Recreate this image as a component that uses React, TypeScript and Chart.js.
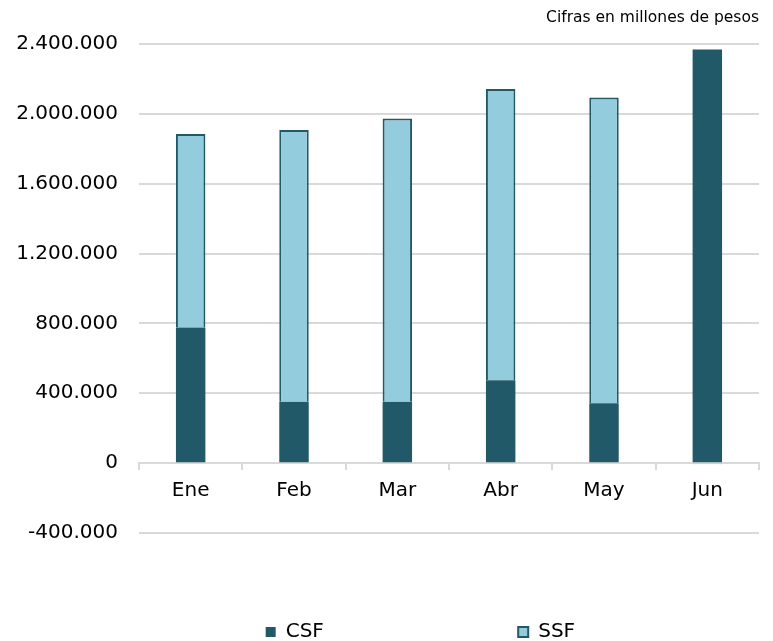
import React, { useEffect, useRef } from 'react';
import { Chart, registerables } from 'chart.js';

Chart.register(...registerables);

const categories = ['Ene', 'Feb', 'Mar', 'Abr', 'May', 'Jun'];
const csfValues = [776000, 351000, 351000, 475000, 343000, 2368000];
const ssfValues = [1109000, 1556000, 1622000, 1667000, 1751000, -4000];
const seriesNames = ['CSF', 'SSF'];
const yMin = -400000;
const yMax = 2400000;
const yStep = 400000;
const unitNote = 'Cifras en millones de pesos';

const FONT = "'DejaVu Sans', Verdana, sans-serif";
const DARK = '#215968';
const LIGHT = '#93CDDD';
const GRID = '#d9d9d9';

const fmt = (v: number) => {
  const s = Math.abs(v).toString().replace(/\B(?=(\d{3})+(?!\d))/g, '.');
  return (v < 0 ? '-' : '') + s;
};

export default function App() {
  const ref = useRef<HTMLCanvasElement | null>(null);
  useEffect(() => {
    if (!ref.current) return;
    const chart = new Chart(ref.current, {
      type: 'bar',
      data: {
        labels: categories,
        datasets: [
          {
            label: seriesNames[0],
            data: csfValues,
            backgroundColor: DARK,
            borderColor: DARK,
            borderWidth: 0,
            categoryPercentage: 1,
            barPercentage: 0.285,
          },
          {
            label: seriesNames[1],
            data: ssfValues,
            backgroundColor: LIGHT,
            borderColor: DARK,
            borderWidth: 2,
            categoryPercentage: 1,
            barPercentage: 0.285,
          },
        ],
      },
      options: {
        responsive: false,
        animation: false,
        layout: { padding: { left: 0, right: 14, top: 0, bottom: 0 } },
        plugins: {
          tooltip: { enabled: false },
          title: {
            display: true,
            text: unitNote,
            align: 'end',
            color: '#000',
            font: { family: FONT, size: 15.5, weight: 'normal' },
            padding: { top: 9, bottom: 16.4 },
          },
          legend: {
            position: 'bottom',
            fullSize: false,
            title: {
              display: true,
              text: ' ',
              font: { family: FONT, size: 10 },
              padding: { top: 67, bottom: 0 },
            },
            labels: {
              color: '#000',
              font: { family: FONT, size: 20 },
              boxWidth: 10,
              boxHeight: 10,
              padding: 10,
              generateLabels: (c: any) => {
                const items = (Chart.defaults.plugins.legend.labels as any).generateLabels(c);
                items[0].text = items[0].text + ' '.repeat(29);
                items[1].text = items[1].text + ' '.repeat(9);
                return items;
              },
            },
          },
        },
        scales: {
          x: {
            stacked: true,
            position: { y: 0 } as any,
            grid: {
              display: true,
              drawOnChartArea: false,
              drawTicks: true,
              tickLength: 6,
              offset: true,
              color: GRID,
              lineWidth: 2,
            },
            border: { display: true, color: GRID, width: 2 },
            ticks: {
              color: '#000',
              font: { family: FONT, size: 20 },
              padding: 10,
              maxRotation: 0,
            },
          },
          y: {
            stacked: true,
            min: yMin,
            max: yMax,
            afterFit: (s: any) => {
              s.width = 139;
            },
            grid: {
              color: GRID,
              lineWidth: 2,
              drawTicks: false,
            },
            border: { display: false },
            ticks: {
              stepSize: yStep,
              color: '#000',
              font: { family: FONT, size: 20 },
              padding: 21,
              callback: (v: any) => fmt(Number(v)),
            },
          },
        },
      },
    });
    return () => chart.destroy();
  }, []);
  return (
    <div style={{ position: 'absolute', left: 0, top: 0, width: 773, height: 641, overflow: 'hidden' }}>
      <canvas ref={ref} width={773} height={652} style={{ display: 'block' }} />
    </div>
  );
}
